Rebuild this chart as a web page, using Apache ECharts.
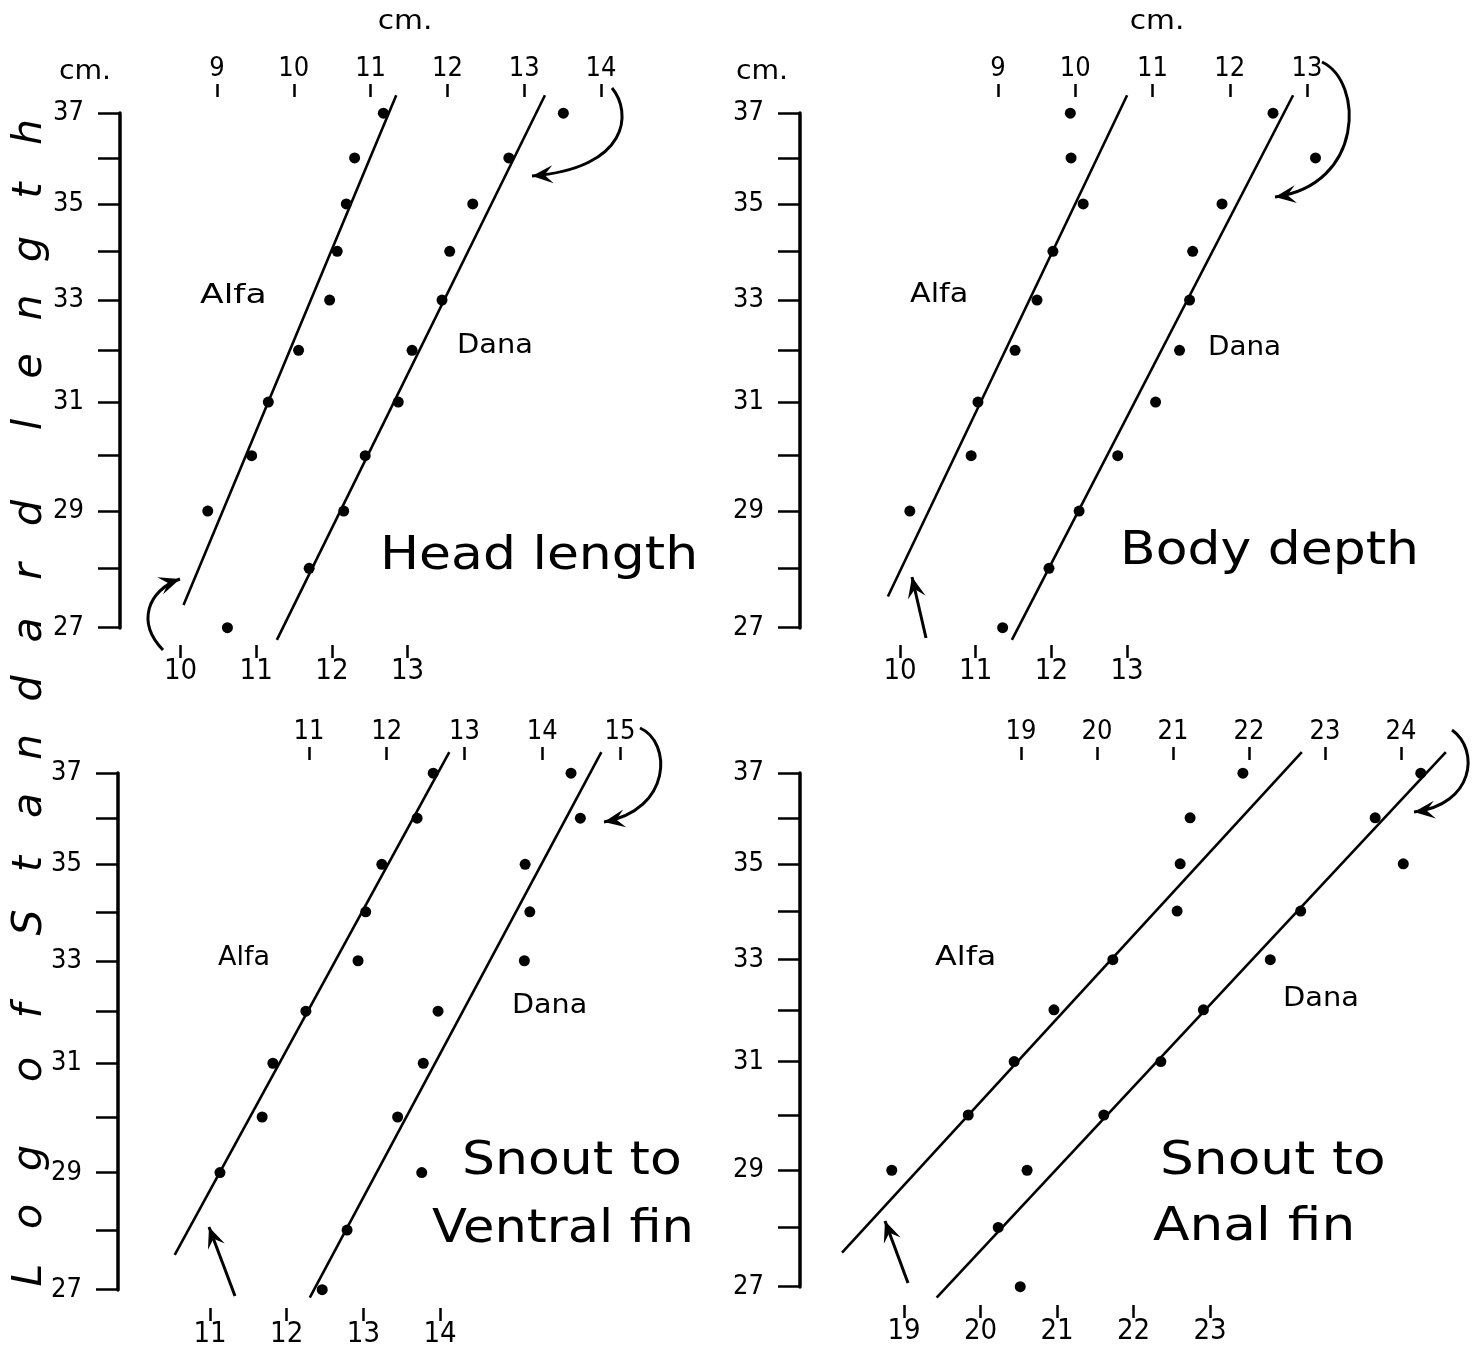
<!DOCTYPE html>
<html>
<head>
<meta charset="utf-8">
<script src="https://cdn.jsdelivr.net/npm/echarts@6/dist/echarts.min.js"></script>
<style>
  html, body { margin: 0; padding: 0; background: #fff; }
  #chart { width: 1481px; height: 1349px; }
</style>
</head>
<body>
<div id="chart"></div>
<script>
// standard length (cm), one level per dot row, top to bottom
var lengths = [37, 36, 35, 34, 33, 32, 31, 30, 29, 28, 27];
var yTicks = [27, 28, 29, 30, 31, 32, 33, 34, 35, 36, 37];
var yLabels = [27, 29, 31, 33, 35, 37];

// Head length
var headTopTicks = [9, 10, 11, 12, 13, 14];
var headBottomTicks = [10, 11, 12, 13];
var headAlfa = [12.68, 12.30, 12.19, 12.07, 11.97, 11.56, 11.16, 10.94, 10.36, null, 10.62];
var headDana = [13.51, 12.80, 12.33, 12.03, 11.93, 11.54, 11.36, 10.93, 10.65, 10.20, null];
var headAlfaLine = [[10.04, 27.38], [12.85, 37.41]];
var headDanaLine = [[9.78, 26.80], [13.27, 37.41]];

// Body depth
var bodyTopTicks = [9, 10, 11, 12, 13];
var bodyBottomTicks = [10, 11, 12, 13];
var bodyAlfa = [12.25, 12.26, 12.42, 12.02, 11.81, 11.52, 11.03, 10.94, 10.13, null, null];
var bodyDana = [12.56, 13.11, 11.90, 11.52, 11.48, 11.35, 11.04, 10.55, 10.05, 9.66, 9.06];
var bodyAlfaLine = [[9.84, 27.52], [13.00, 37.41]];
var bodyDanaLine = [[9.18, 26.80], [12.82, 37.41]];

// Snout to ventral fin
var ventralTopTicks = [11, 12, 13, 14, 15];
var ventralBottomTicks = [11, 12, 13, 14];
var ventralAlfa = [13.91, 13.70, 13.24, 13.03, 12.93, 12.25, 11.82, 11.68, 11.13, null, null];
var ventralDana = [14.37, 14.49, 13.78, 13.84, 13.77, 12.66, 12.47, 12.14, 12.45, 11.49, 11.17];
var ventralAlfaLine = [[10.54, 27.58], [14.12, 37.48]];
var ventralDanaLine = [[11.01, 26.87], [14.76, 37.48]];

// Snout to anal fin
var analTopTicks = [19, 20, 21, 22, 23, 24];
var analBottomTicks = [19, 20, 21, 22, 23];
var analAlfa = [23.43, 22.74, 22.61, 22.57, 21.73, 20.96, 20.44, 19.84, 18.84, null, null];
var analDana = [24.26, 23.66, 24.03, 22.68, 22.28, 21.40, 20.84, 20.09, 19.08, 18.70, 18.99];
var analAlfaLine = [[18.19, 27.57], [24.20, 37.48]];
var analDanaLine = [[17.89, 26.82], [24.59, 37.48]];

var yTitle = 'Log of Standard length';

var FONT_NUM = '"Liberation Sans Narrow", "DejaVu Sans Condensed", sans-serif';
var FONT_TXT = '"DejaVu Sans", sans-serif';

// layout of each panel: grid box, and where one labelled tick sits (px) plus px per cm
var panels = [
  { left: 120, top: 113, height: 515, width: 620,
    bottom: { ticks: headBottomTicks, ref: 10, px: 180.5, per: 75.7, offset: 17 },
    topAx: { ticks: headTopTicks, ref: 9, px: 217, per: 76.8, offset: 16 },
    alfa: headAlfa, dana: headDana, alfaLine: headAlfaLine, danaLine: headDanaLine },
  { left: 800, top: 113, height: 515, width: 660,
    bottom: { ticks: bodyBottomTicks, ref: 10, px: 900, per: 75.7, offset: 17 },
    topAx: { ticks: bodyTopTicks, ref: 9, px: 998, per: 77.25, offset: 16 },
    alfa: bodyAlfa, dana: bodyDana, alfaLine: bodyAlfaLine, danaLine: bodyDanaLine },
  { left: 118, top: 773, height: 517, width: 620,
    bottom: { ticks: ventralBottomTicks, ref: 11, px: 210, per: 76.7, offset: 18 },
    topAx: { ticks: ventralTopTicks, ref: 11, px: 309, per: 77.75, offset: 13 },
    alfa: ventralAlfa, dana: ventralDana, alfaLine: ventralAlfaLine, danaLine: ventralDanaLine },
  { left: 800, top: 773, height: 514, width: 660,
    bottom: { ticks: analBottomTicks, ref: 19, px: 904, per: 76.5, offset: 18 },
    topAx: { ticks: analTopTicks, ref: 19, px: 1021, per: 76, offset: 13 },
    alfa: analAlfa, dana: analDana, alfaLine: analAlfaLine, danaLine: analDanaLine }
];

function pairs(xs) {
  var out = [];
  for (var i = 0; i < xs.length; i++) {
    if (xs[i] != null) out.push([xs[i], lengths[i]]);
  }
  return out;
}

function xAxisFor(p, ax, gi, pos) {
  var min = ax.ref - (ax.px - p.left) / ax.per;
  return {
    gridIndex: gi, type: 'value', position: pos, offset: ax.offset,
    min: min, max: min + p.width / ax.per,
    axisLine: { show: false },
    splitLine: { show: false },
    axisTick: { show: true, inside: false, length: 13, customValues: ax.ticks,
      lineStyle: { color: '#000', width: 2.5 } },
    axisLabel: { customValues: ax.ticks, margin: pos === 'top' ? 15 : 12,
      color: '#000', fontSize: pos === 'top' ? 27 : 29, fontFamily: FONT_NUM }
  };
}

var grids = [], xAxes = [], yAxes = [], series = [];
panels.forEach(function (p, i) {
  grids.push({ left: p.left, top: p.top, width: p.width, height: p.height });
  xAxes.push(xAxisFor(p, p.bottom, i, 'bottom'));
  xAxes.push(xAxisFor(p, p.topAx, i, 'top'));
  yAxes.push({
    gridIndex: i, type: 'log', logBase: 10, min: 26.995, max: 37.005,
    axisLine: { show: true, onZero: false, lineStyle: { color: '#000', width: 3.5 } },
    axisTick: { show: true, length: 22, customValues: yTicks,
      lineStyle: { color: '#000', width: 2.5 } },
    axisLabel: { customValues: yLabels, margin: 36, color: '#000',
      fontSize: 27, fontFamily: FONT_NUM },
    splitLine: { show: false }
  });
  var dot = { type: 'scatter', yAxisIndex: i, symbolSize: 11, clip: false,
    itemStyle: { color: '#000', opacity: 1 }, silent: true };
  series.push(Object.assign({}, dot, { name: 'Alfa', xAxisIndex: 2 * i, data: pairs(p.alfa) }));
  series.push(Object.assign({}, dot, { name: 'Dana', xAxisIndex: 2 * i + 1, data: pairs(p.dana) }));
  var ln = { type: 'line', yAxisIndex: i, symbol: 'none', clip: false, silent: true,
    lineStyle: { color: '#000', width: 2.6 } };
  series.push(Object.assign({}, ln, { name: 'Alfa fit', xAxisIndex: 2 * i, data: p.alfaLine }));
  series.push(Object.assign({}, ln, { name: 'Dana fit', xAxisIndex: 2 * i + 1, data: p.danaLine }));
});

// ---- annotation graphics ----
var graphics = [];
function label(text, x, y, size, sx, align) {
  graphics.push({ type: 'text', x: x, y: y, scaleX: sx || 1, silent: true,
    style: { text: text, fill: '#000', font: size + 'px ' + FONT_TXT,
      textAlign: align || 'left', textVerticalAlign: 'middle' } });
}
function head(x, y, fx, fy) {
  var a = Math.atan2(y - fy, x - fx), c = Math.cos(a), s = Math.sin(a);
  var L = 21, W = 9;
  graphics.push({ type: 'polygon', silent: true,
    shape: { points: [[x, y],
      [x - L * c + W * s, y - L * s - W * c],
      [x - 0.6 * L * c, y - 0.6 * L * s],
      [x - L * c - W * s, y - L * s + W * c]] },
    style: { fill: '#000' } });
}
function curved(x1, y1, c1x, c1y, c2x, c2y, x2, y2) {
  graphics.push({ type: 'bezierCurve', silent: true,
    shape: { x1: x1, y1: y1, cpx1: c1x, cpy1: c1y, cpx2: c2x, cpy2: c2y, x2: x2, y2: y2 },
    style: { stroke: '#000', lineWidth: 3, fill: null } });
  head(x2, y2, c2x, c2y);
}
function straight(x1, y1, x2, y2) {
  graphics.push({ type: 'line', silent: true,
    shape: { x1: x1, y1: y1, x2: x2, y2: y2 },
    style: { stroke: '#000', lineWidth: 3 } });
  head(x2, y2, x1, y1);
}

label('cm.', 405, 22, 27, 1.1, 'center');
label('cm.', 85, 72, 27, 1.05, 'center');
label('cm.', 1157, 22, 27, 1.1, 'center');
label('cm.', 762, 72, 27, 1.05, 'center');

label('Alfa', 200, 296, 27, 1.28);
label('Dana', 457, 346, 27, 1.07);
label('Alfa', 910, 295, 27, 1.12);
label('Dana', 1208, 348, 27, 1.03);
label('Alfa', 218, 958, 27, 1.0);
label('Dana', 512, 1006, 27, 1.06);
label('Alfa', 935, 958, 27, 1.18);
label('Dana', 1283, 999, 27, 1.07);

label('Head length', 380, 557, 46, 1.13);
label('Body depth', 1120, 552, 46, 1.13);
label('Snout to', 462, 1162, 46, 1.13);
label('Ventral fin', 432, 1230, 46, 1.11);
label('Snout to', 1160, 1162, 46, 1.16);
label('Anal fin', 1153, 1228, 46, 1.16);

curved(163, 650, 136, 622, 148, 590, 180, 579);
curved(612, 88, 632, 112, 630, 168, 532, 176);
straight(926, 638, 912, 577);
curved(1322, 62, 1364, 82, 1364, 185, 1275, 197);
straight(235, 1296, 209, 1227);
curved(640, 728, 672, 742, 672, 810, 604, 822);
straight(908, 1283, 885, 1221);
curved(1452, 730, 1480, 750, 1474, 805, 1414, 812);

// rotated, widely spaced axis title along the left edge
(function () {
  var y = 1275, step = 58.5, gap = 30;
  for (var k = 0; k < yTitle.length; k++) {
    var ch = yTitle.charAt(k);
    if (ch === ' ') { y -= gap; continue; }
    graphics.push({ type: 'text', x: 30, y: y, rotation: Math.PI / 2, silent: true,
      style: { text: ch, fill: '#000', font: 'italic 41px ' + FONT_TXT,
        textAlign: 'center', textVerticalAlign: 'middle' } });
    y -= step;
  }
})();

var chart = echarts.init(document.getElementById('chart'));
chart.setOption({
  animation: false,
  backgroundColor: '#fff',
  grid: grids,
  xAxis: xAxes,
  yAxis: yAxes,
  series: series,
  graphic: { elements: graphics }
});
</script>
</body>
</html>
